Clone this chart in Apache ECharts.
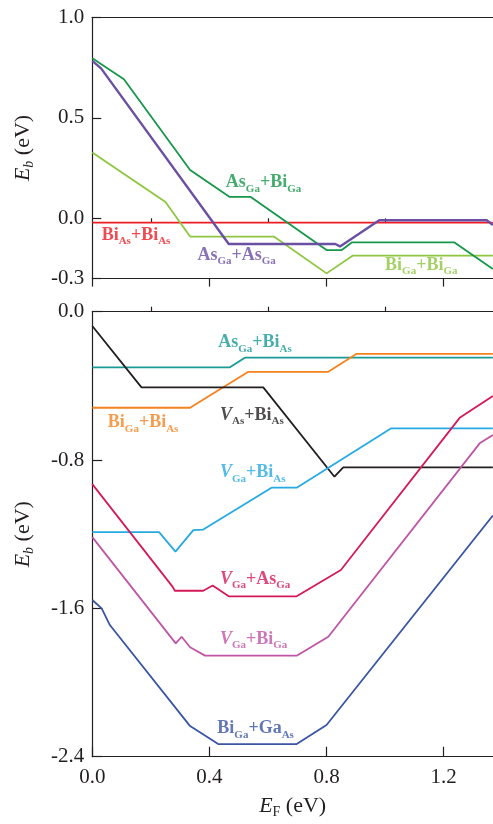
<!DOCTYPE html>
<html>
<head>
<meta charset="utf-8">
<script src="https://cdn.jsdelivr.net/npm/echarts@6/dist/echarts.min.js"></script>
<style>
html,body{margin:0;padding:0;background:#fff;}
#chart{width:493px;height:824px;}
</style>
</head>
<body>
<div id="chart"></div>
<script>
// ---------- DATA ----------
const xTickLabels = [0, 0.4, 0.8, 1.2];
const xMinorTicks = [0.2, 0.6, 1.0];
const topYTicks = [-0.3, 0.0, 0.5, 1.0];
const bottomYTicks = [-2.4, -1.6, -0.8, 0.0];

// top panel
const asGaBiGa_x = [0, 0.108, 0.334, 0.468, 0.540, 0.800, 0.852, 0.886, 1.237, 1.368];
const asGaBiGa_y = [0.796, 0.692, 0.240, 0.107, 0.107, -0.158, -0.158, -0.120, -0.120, -0.252];
const asGaAsGa_x = [0, 0.030, 0.466, 0.830, 0.846, 0.980, 1.347, 1.368];
const asGaAsGa_y = [0.783, 0.746, -0.128, -0.128, -0.140, -0.010, -0.010, -0.033];
const biGaBiGa_x = [0, 0.250, 0.334, 0.620, 0.800, 0.889, 1.368];
const biGaBiGa_y = [0.327, 0.081, -0.091, -0.091, -0.274, -0.186, -0.186];
const biAsBiAs_x = [0, 1.368];
const biAsBiAs_y = [-0.022, -0.022];

// bottom panel
const asGaBiAs_x = [0, 0.470, 0.521, 1.368];
const asGaBiAs_y = [-0.300, -0.300, -0.248, -0.248];
const biGaBiAs_x = [0, 0.334, 0.533, 0.806, 0.903, 1.368];
const biGaBiAs_y = [-0.518, -0.518, -0.324, -0.324, -0.227, -0.227];
const vAsBiAs_x = [0, 0.168, 0.584, 0.827, 0.857, 1.368];
const vAsBiAs_y = [-0.077, -0.408, -0.408, -0.890, -0.840, -0.840];
const vGaBiAs_x = [0, 0.228, 0.284, 0.345, 0.379, 0.612, 0.698, 1.021, 1.368];
const vGaBiAs_y = [-1.189, -1.189, -1.294, -1.178, -1.175, -0.949, -0.949, -0.629, -0.629];
const vGaAsGa_x = [0, 0.274, 0.282, 0.379, 0.411, 0.466, 0.698, 0.849, 1.256, 1.368];
const vGaAsGa_y = [-0.930, -1.483, -1.505, -1.505, -1.477, -1.535, -1.535, -1.393, -0.570, -0.455];
const vGaBiGa_x = [0, 0.285, 0.305, 0.334, 0.385, 0.698, 0.806, 1.323, 1.368];
const vGaBiGa_y = [-1.216, -1.789, -1.753, -1.810, -1.855, -1.855, -1.753, -0.710, -0.665];
const biGaGaAs_x = [0, 0.032, 0.060, 0.334, 0.430, 0.698, 0.800, 1.368];
const biGaGaAs_y = [-1.555, -1.600, -1.690, -2.235, -2.332, -2.332, -2.229, -1.099];

// label texts: [text, style] parts
const lblAsGaBiGa = [['As','m'],['Ga','s'],['+Bi','m'],['Ga','s']];
const lblBiAsBiAs = [['Bi','m'],['As','s'],['+Bi','m'],['As','s']];
const lblAsGaAsGa = [['As','m'],['Ga','s'],['+As','m'],['Ga','s']];
const lblBiGaBiGa = [['Bi','m'],['Ga','s'],['+Bi','m'],['Ga','s']];
const lblAsGaBiAs = [['As','m'],['Ga','s'],['+Bi','m'],['As','s']];
const lblBiGaBiAs = [['Bi','m'],['Ga','s'],['+Bi','m'],['As','s']];
const lblVAsBiAs  = [['V','mi'],['As','s'],['+Bi','m'],['As','s']];
const lblVGaBiAs  = [['V','mi'],['Ga','s'],['+Bi','m'],['As','s']];
const lblVGaAsGa  = [['V','mi'],['Ga','s'],['+As','m'],['Ga','s']];
const lblVGaBiGa  = [['V','mi'],['Ga','s'],['+Bi','m'],['Ga','s']];
const lblBiGaGaAs = [['Bi','m'],['Ga','s'],['+Ga','m'],['As','s']];

// label anchor (left edge, text middle) in data units
const topLabelX = [0.456, 0.032, 0.359, 1.000];
const topLabelY = [0.179, -0.083, -0.183, -0.232];
const botLabelX = [0.430, 0.053, 0.436, 0.436, 0.436, 0.436, 0.427];
const botLabelY = [-0.167, -0.597, -0.557, -0.868, -1.442, -1.765, -2.247];

// ---------- STYLE ----------
const XMAX = 1.3685;
const SERIF = '"Liberation Serif","Times New Roman",serif';
const INK = '#231f20';
const C = {
  asGaBiGa:'#17974a', asGaAsGa:'#6a4fa3', biGaBiGa:'#8dc63f', biAsBiAs:'#ed1c24',
  asGaBiAs:'#1a9a95', biGaBiAs:'#f5821f', vAsBiAs:'#231f20', vGaBiAs:'#27aae1',
  vGaAsGa:'#d6195b', vGaBiGa:'#bf55a6', biGaGaAs:'#3a55a5'
};

function zip(xs, ys){ return xs.map((x,i)=>[x, ys[i]]); }
function rich(parts){ return parts.map(p=>'{'+p[1]+'|'+p[0]+'}').join(''); }

const labelRich = {
  m:  {fontFamily:SERIF, fontWeight:'bold', fontSize:18, lineHeight:22},
  mi: {fontFamily:SERIF, fontWeight:'bold', fontStyle:'italic', fontSize:18, lineHeight:22},
  s:  {fontFamily:SERIF, fontWeight:'bold', fontSize:11, lineHeight:12, padding:[13,0,0,0]}
};

function lineSeries(name, xs, ys, color, gi, w){
  return {
    name, type:'line', xAxisIndex: gi===0?0:3, yAxisIndex: gi,
    data: zip(xs, ys), showSymbol:false, symbol:'none', animation:false,
    lineStyle:{color, width: w||1.8}, z:3
  };
}
function labelSeries(parts, x, y, color, gi){
  return {
    type:'scatter', xAxisIndex: gi===0?0:3, yAxisIndex: gi,
    data:[[x,y]], symbolSize:0, animation:false, silent:true, z:5,
    label:{show:true, position:'right', distance:0, color,
      formatter: rich(parts),
      rich: {
        m:Object.assign({color},labelRich.m),
        mi:Object.assign({color},labelRich.mi),
        s:Object.assign({color},labelRich.s)
      }}
  };
}

const nameRich = {
  i:{fontFamily:SERIF, fontStyle:'italic', fontSize:22, lineHeight:24, color:INK},
  si:{fontFamily:SERIF, fontStyle:'italic', fontSize:14, lineHeight:14, padding:[12,0,0,0], color:INK},
  s:{fontFamily:SERIF, fontSize:14, lineHeight:14, padding:[12,0,0,0], color:INK},
  n:{fontFamily:SERIF, fontSize:22, lineHeight:24, color:INK}
};

const axisLineStyle = {color:INK, width:1.2};
const fmt = v => v.toFixed(1);

const grids = [
  {left:92.3, right:0, top:17.3, height:261.3, outerBoundsMode:'none', containLabel:false},
  {left:92.3, right:0, top:311.7, height:445, outerBoundsMode:'none', containLabel:false}
];

const xAxes = [
  // top grid
  {gridIndex:0, type:'value', position:'bottom', min:0, max:XMAX,
   axisLine:{show:true, onZero:false, lineStyle:axisLineStyle},
   axisTick:{show:true, inside:false, length:8, lineStyle:axisLineStyle, customValues:xTickLabels},
   axisLabel:{show:false}, splitLine:{show:false}},
  {gridIndex:0, type:'value', position:'bottom', min:0, max:XMAX,
   axisLine:{show:false},
   axisTick:{show:true, inside:false, length:4, lineStyle:axisLineStyle, customValues:xMinorTicks},
   axisLabel:{show:false}, splitLine:{show:false}},
  {gridIndex:0, type:'value', position:'top', min:0, max:XMAX,
   axisLine:{show:true, onZero:false, lineStyle:axisLineStyle},
   axisTick:{show:false}, axisLabel:{show:false}, splitLine:{show:false}},
  // bottom grid
  {gridIndex:1, type:'value', position:'bottom', min:0, max:XMAX,
   axisLine:{show:true, onZero:false, lineStyle:axisLineStyle},
   axisTick:{show:true, inside:true, length:10, lineStyle:axisLineStyle, customValues:xTickLabels},
   axisLabel:{show:true, customValues:xTickLabels, formatter:fmt, fontFamily:SERIF, fontSize:21, color:INK, margin:10},
   splitLine:{show:false},
   name:'{i|E}{s|F}{n| (eV)}', nameLocation:'middle', nameGap:38,
   nameTextStyle:{rich:nameRich}},
  {gridIndex:1, type:'value', position:'bottom', min:0, max:XMAX,
   axisLine:{show:false},
   axisTick:{show:true, inside:true, length:5, lineStyle:axisLineStyle, customValues:xMinorTicks},
   axisLabel:{show:false}, splitLine:{show:false}},
  {gridIndex:1, type:'value', position:'top', min:0, max:XMAX,
   axisLine:{show:true, onZero:false, lineStyle:axisLineStyle},
   axisTick:{show:false}, axisLabel:{show:false}, splitLine:{show:false}}
];

const yAxes = [
  {gridIndex:0, type:'value', position:'left', min:-0.3, max:1.0,
   axisLine:{show:true, onZero:false, lineStyle:axisLineStyle},
   axisTick:{show:true, inside:true, length:9, lineStyle:axisLineStyle, customValues:topYTicks},
   axisLabel:{show:true, customValues:topYTicks, formatter:fmt, fontFamily:SERIF, fontSize:21, color:INK, margin:8},
   splitLine:{show:false},
   name:'{i|E}{si|b}{n| (eV)}', nameLocation:'middle', nameGap:57, nameRotate:90,
   nameTextStyle:{rich:nameRich}},
  {gridIndex:1, type:'value', position:'left', min:-2.4, max:0, interval:0.8,
   axisLine:{show:true, onZero:false, lineStyle:axisLineStyle},
   axisTick:{show:true, inside:true, length:10, lineStyle:axisLineStyle, customValues:bottomYTicks},
   axisLabel:{show:true, customValues:bottomYTicks, formatter:fmt, fontFamily:SERIF, fontSize:21, color:INK, margin:8},
   splitLine:{show:false},
   name:'{i|E}{si|b}{n| (eV)}', nameLocation:'middle', nameGap:57, nameRotate:90,
   nameTextStyle:{rich:nameRich}}
];

const series = [
  lineSeries('BiAs+BiAs', biAsBiAs_x, biAsBiAs_y, C.biAsBiAs, 0, 1.8),
  lineSeries('BiGa+BiGa', biGaBiGa_x, biGaBiGa_y, C.biGaBiGa, 0, 1.8),
  lineSeries('AsGa+BiGa', asGaBiGa_x, asGaBiGa_y, C.asGaBiGa, 0, 1.8),
  lineSeries('AsGa+AsGa', asGaAsGa_x, asGaAsGa_y, C.asGaAsGa, 0, 2.4),

  lineSeries('AsGa+BiAs', asGaBiAs_x, asGaBiAs_y, C.asGaBiAs, 1, 1.8),
  lineSeries('BiGa+BiAs', biGaBiAs_x, biGaBiAs_y, C.biGaBiAs, 1, 1.8),
  lineSeries('VAs+BiAs', vAsBiAs_x, vAsBiAs_y, C.vAsBiAs, 1, 1.8),
  lineSeries('VGa+BiAs', vGaBiAs_x, vGaBiAs_y, C.vGaBiAs, 1, 1.8),
  lineSeries('VGa+AsGa', vGaAsGa_x, vGaAsGa_y, C.vGaAsGa, 1, 1.8),
  lineSeries('VGa+BiGa', vGaBiGa_x, vGaBiGa_y, C.vGaBiGa, 1, 1.8),
  lineSeries('BiGa+GaAs', biGaGaAs_x, biGaGaAs_y, C.biGaGaAs, 1, 1.8),

  labelSeries(lblAsGaBiGa, topLabelX[0], topLabelY[0], C.asGaBiGa, 0),
  labelSeries(lblBiAsBiAs, topLabelX[1], topLabelY[1], C.biAsBiAs, 0),
  labelSeries(lblAsGaAsGa, topLabelX[2], topLabelY[2], C.asGaAsGa, 0),
  labelSeries(lblBiGaBiGa, topLabelX[3], topLabelY[3], C.biGaBiGa, 0),

  labelSeries(lblAsGaBiAs, botLabelX[0], botLabelY[0], C.asGaBiAs, 1),
  labelSeries(lblBiGaBiAs, botLabelX[1], botLabelY[1], C.biGaBiAs, 1),
  labelSeries(lblVAsBiAs,  botLabelX[2], botLabelY[2], C.vAsBiAs, 1),
  labelSeries(lblVGaBiAs,  botLabelX[3], botLabelY[3], C.vGaBiAs, 1),
  labelSeries(lblVGaAsGa,  botLabelX[4], botLabelY[4], C.vGaAsGa, 1),
  labelSeries(lblVGaBiGa,  botLabelX[5], botLabelY[5], C.vGaBiGa, 1),
  labelSeries(lblBiGaGaAs, botLabelX[6], botLabelY[6], C.biGaGaAs, 1)
];

const chart = echarts.init(document.getElementById('chart'), null, {renderer:'canvas'});
chart.setOption({
  animation:false,
  backgroundColor:'#ffffff',
  grid: grids,
  xAxis: xAxes,
  yAxis: yAxes,
  series
});
</script>
</body>
</html>
